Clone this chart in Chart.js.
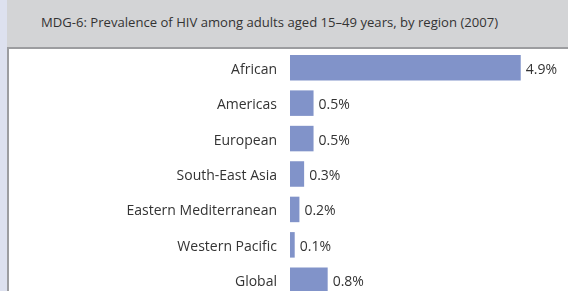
<!DOCTYPE html>
<html>
<head>
<meta charset="utf-8">
<script src="https://cdn.jsdelivr.net/npm/chart.js@4"></script>
<style>
  html, body { margin: 0; padding: 0; width: 568px; height: 291px; overflow: hidden; background: #dde1ef; }
  #header {
    position: absolute; left: 7px; top: 0; width: 561px; height: 47px;
    background: #d3d4d6; border-bottom: 2px solid #9c9da0;
  }
  #title {
    position: absolute; left: 34px; top: 13px; white-space: nowrap;
    font-family: "Open Sans", sans-serif; font-size: 13.1px; color: #333;
  }
  #panel {
    position: absolute; left: 7px; top: 49px; width: 559px; height: 260px;
    background: #fff; border-left: 2px solid #9c9da0;
  }
  #wrap { position: absolute; left: 9px; top: 50px; width: 559px; height: 248px; }
</style>
</head>
<body>
<div id="header"><div id="title">MDG-6: Prevalence of HIV among adults aged 15–49 years, by region (2007)</div></div>
<div id="panel"></div>
<div id="wrap"><canvas id="theChart"></canvas></div>
<script>
const regions = ["African", "Americas", "European", "South-East Asia", "Eastern Mediterranean", "Western Pacific", "Global"]
const prevalence = [4.9, 0.5, 0.5, 0.3, 0.2, 0.1, 0.8]

const fontFam = '"Open Sans", sans-serif'

// writes the % next to each bar
const barLabels = {
  id: "barLabels",
  afterDatasetsDraw(chart) {
    const ctx = chart.ctx
    const meta = chart.getDatasetMeta(0)
    ctx.save()
    ctx.font = "14px " + fontFam
    ctx.fillStyle = "#333"
    ctx.textBaseline = "middle"
    meta.data.forEach((bar, i) => {
      ctx.fillText(prevalence[i].toFixed(1) + "%", bar.x + 5, bar.y + 2)
    })
    ctx.restore()
  }
}

const ctx = document.getElementById("theChart")
new Chart(ctx, {
  type: "bar",
  data: {
    labels: regions,
    datasets: [{
      data: prevalence,
      backgroundColor: "#8193c9",
      barPercentage: 0.72,
      categoryPercentage: 1
    }]
  },
  options: {
    indexAxis: "y",
    responsive: true,
    maintainAspectRatio: false,
    animation: false,
    layout: { padding: { top: 0, bottom: 0, left: 0, right: 19 } },
    plugins: { legend: { display: false }, tooltip: { enabled: false } },
    scales: {
      x: { display: false, min: 0, max: 5.5 },
      y: {
        grid: { display: false, drawTicks: false },
        border: { display: false },
        ticks: { color: "#333", padding: 13, labelOffset: 2, font: { family: fontFam, size: 14 } },
        afterFit(scale) {
          scale.width = 281
          scale.paddingTop = 0
          scale.paddingBottom = 0
        }
      }
    }
  },
  plugins: [barLabels]
})
</script>
</body>
</html>
